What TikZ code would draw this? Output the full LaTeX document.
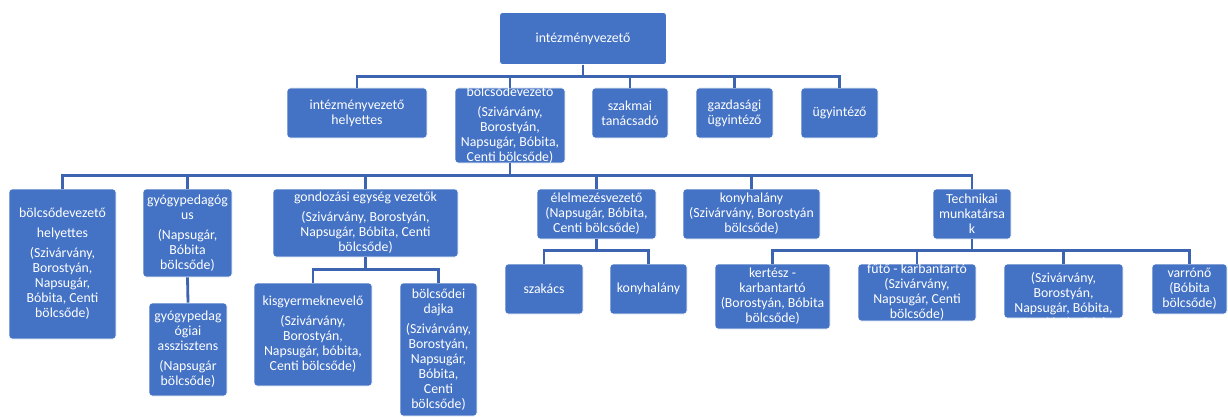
\documentclass[tikz,border=0pt]{standalone}
\usepackage{fontspec}
\setmainfont{Carlito}
\usepackage{tikz}
\usetikzlibrary{positioning,calc}
\definecolor{boxblue}{HTML}{4472C4}
\definecolor{lineblue}{HTML}{3C64B0}
\tikzstyle{unit}=[draw=white,line width=0.8pt,fill=boxblue,rounded corners=3pt,inner sep=0pt]
\tikzstyle{txt}=[text=white,align=center,inner sep=0pt,font=\fontsize{13.8}{15}\selectfont]
\tikzstyle{link}=[draw=lineblue,line width=2.8pt]
\newcommand{\gap}{\\[5pt]}

\begin{document}
\begin{tikzpicture}[x=1pt,y=-1pt]
\useasboundingbox (0,0) rectangle (1228,417);
% level 0 and 1
\node [unit,minimum width=167,minimum height=52] (top) at (583,38.5) {};
\node [unit,minimum width=140,minimum height=50] (ivh) at (357,113) {};
\node [unit,minimum width=110,minimum height=75] (bv) at (510,125.5) {};
\node [unit,minimum width=76,minimum height=50] (szt) at (630,113) {};
\node [unit,minimum width=77,minimum height=50] (gu) at (734.5,113) {};
\node [unit,minimum width=77,minimum height=50] (ugy) at (839.5,113) {};
% level 2
\node [unit,minimum width=107,minimum height=150] (bvh) at (62.5,264) {};
\node [unit,minimum width=89,minimum height=88] (gyp) at (187.5,233) {};
\node [unit,minimum width=78,minimum height=93] (gyas) at (188,349.5) {};
\node [unit,minimum width=185,minimum height=68] (gev) at (365.5,223) {};
\node [unit,minimum width=118,minimum height=103] (kis) at (313,334.5) {};
\node [unit,minimum width=77,minimum height=133] (dajka) at (438.5,349.5) {};
\node [unit,minimum width=119,minimum height=50] (elm) at (596.5,214) {};
\node [unit,minimum width=137,minimum height=50] (kony) at (751.5,214) {};
\node [unit,minimum width=78,minimum height=50] (tech) at (972,214) {};
% level 3
\node [unit,minimum width=78,minimum height=50] (szak) at (544,289) {};
\node [unit,minimum width=77,minimum height=50] (konyb) at (648.5,289) {};
\node [unit,minimum width=115,minimum height=65] (kert) at (772.5,296.5) {};
\node [unit,minimum width=118,minimum height=57] (futo) at (917,292.5) {};
\node [unit,minimum width=119,minimum height=54] (varrb) at (1063.5,291) {};
\node [unit,minimum width=75,minimum height=50] (varr) at (1189.5,289) {};

% texts
\node [txt] (top-t) at (top) {intézményvezető};
\node [txt] (ivh-t) at (ivh) {intézményvezető\\helyettes};
\node [txt] (bv-t) at (bv) {bölcsődevezető\gap(Szivárvány,\\Borostyán,\\Napsugár, Bóbita,\\Centi bölcsőde)};
\node [txt] (szt-t) at (szt) {szakmai\\tanácsadó};
\node [txt] (gu-t) at (gu) {gazdasági\\ügyintéző};
\node [txt] (ugy-t) at (ugy) {ügyintéző};
\node [txt] (bvh-t) at (bvh) {bölcsődevezető\gap helyettes\gap(Szivárvány,\\Borostyán,\\Napsugár,\\Bóbita, Centi\\bölcsőde)};
\node [txt] (gyp-t) at (gyp) {gyógypedagóg\\us\gap(Napsugár,\\Bóbita\\bölcsőde)};
\node [txt] (gyas-t) at (gyas) {gyógypedag\\ógiai\\asszisztens\gap(Napsugár\\bölcsőde)};
\node [txt] (gev-t) at (gev) {gondozási egység vezetők\gap(Szivárvány, Borostyán,\\Napsugár, Bóbita, Centi\\bölcsőde)};
\node [txt] (kis-t) at (kis) {kisgyermeknevelő\gap(Szivárvány,\\Borostyán,\\Napsugár, bóbita,\\Centi bölcsőde)};
\node [txt] (dajka-t) at (dajka) {bölcsődei\\dajka\gap(Szivárvány,\\Borostyán,\\Napsugár,\\Bóbita,\\Centi\\bölcsőde)};
\node [txt] (elm-t) at (elm) {élelmezésvezető\\(Napsugár, Bóbita,\\Centi bölcsőde)};
\node [txt] (kony-t) at (kony) {konyhalány\\(Szivárvány, Borostyán\\bölcsőde)};
\node [txt] (tech-t) at (tech) {Technikai\\munkatársa\\k};
\node [txt] (szak-t) at (szak) {szakács};
\node [txt] (konyb-t) at (konyb) {konyhalány};
\node [txt] (kert-t) at (kert) {kertész -\\karbantartó\\(Borostyán, Bóbita\\bölcsőde)};
\node [txt] (futo-t) at (futo) {fűtő - karbantartó\\(Szivárvány,\\Napsugár, Centi\\bölcsőde)};
\node [txt] (varrb-t) at (varrb) {varrónő\gap(Szivárvány,\\Borostyán,\\Napsugár, Bóbita,\\Centi bölcsőde)};
\node [txt] (varr-t) at (varr) {varrónő\\(Bóbita\\bölcsőde)};

% connectors
\foreach \c in {ivh,bv,szt,gu,ugy}
  \draw [link] (top.south) -- ++(0,12) -| (\c.north);
\foreach \c in {bvh,gyp,gev,elm,kony,tech}
  \draw [link] (bv.south) -- ++(0,12) -| (\c.north);
\draw [link] (gyp.south) -- (gyas.north);
\foreach \c in {kis,dajka}
  \draw [link] (gev.south) -- ++(0,12) -| (\c.north);
\foreach \c in {szak,konyb}
  \draw [link] (elm.south) -- ++(0,11) -| (\c.north);
\foreach \c in {kert,futo,varrb,varr}
  \draw [link] (tech.south) -- ++(0,11) -| (\c.north);
\end{tikzpicture}
\end{document}
